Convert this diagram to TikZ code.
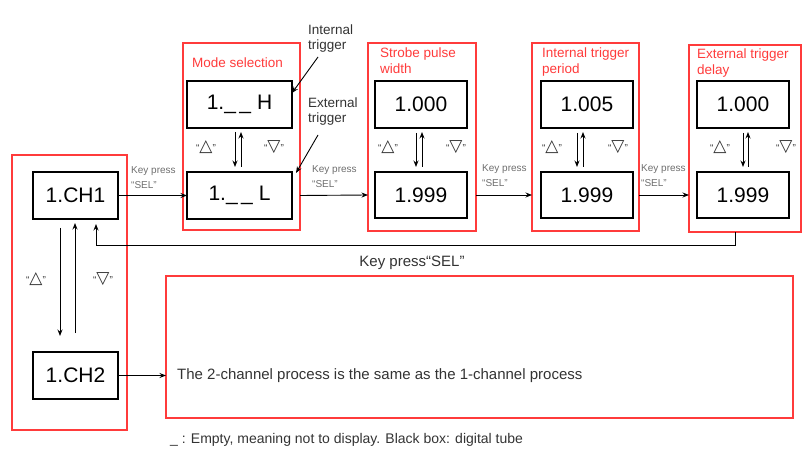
\documentclass[tikz,border=0pt]{standalone}
\usepackage{fontspec}
\setmainfont{Liberation Sans}
\newfontfamily\symfont{DejaVu Sans}
\usetikzlibrary{arrows.meta}
\definecolor{frred}{HTML}{FF3B3B}
\definecolor{txtgray}{HTML}{333333}
\definecolor{keygray}{HTML}{6E6E6E}
\newcommand\qup{{\fontsize{10}{10}\selectfont“}{\symfont\fontsize{17}{17}\selectfont △}{\fontsize{10}{10}\selectfont”}}
\newcommand\qdown{{\fontsize{10}{10}\selectfont“}{\symfont\fontsize{17}{17}\selectfont ▽}{\fontsize{10}{10}\selectfont”}}
\begin{document}
\begin{tikzpicture}[x=1pt,y=-1pt,
  redbox/.style={draw=frred,line width=1.3pt,anchor=north west,inner sep=0pt,outer sep=0pt},
  digit/.style={draw=black,line width=1.1pt,anchor=north west,inner sep=0pt,outer sep=0pt,
     font=\fontsize{21}{21}\selectfont},
  ttl/.style={text=frred,anchor=base west,inner sep=0pt,align=left,
     font=\fontsize{13.5}{16}\selectfont},
  ann/.style={text=txtgray,anchor=base west,inner sep=0pt,align=left,
     font=\fontsize{13.5}{15.5}\selectfont},
  keyl/.style={text=keygray,anchor=base west,inner sep=0pt,align=left,
     font=\fontsize{10}{15}\selectfont},
  sym/.style={inner sep=0pt,text=txtgray},
  arr/.style={line width=0.9pt,-{Stealth[length=6.5pt,width=5pt]}}
]
\useasboundingbox (0,0) rectangle (811,457);

% red frames
\node[redbox,minimum width=115pt,minimum height=275pt] (lf) at (12,155) {};
\node[redbox,minimum width=117pt,minimum height=187pt] (mf) at (183,43) {};
\node[redbox,minimum width=108pt,minimum height=188pt] (sf) at (368,43) {};
\node[redbox,minimum width=107pt,minimum height=188pt] (inf) at (532,43) {};
\node[redbox,minimum width=112pt,minimum height=187pt] (exf) at (689,45) {};
\node[redbox,minimum width=627pt,minimum height=142pt] (bigf) at (166,276) {};

% titles
\node[ttl] (t1) at (192,68) {Mode selection};
\node[ttl] (t2) at (380,74) {Strobe pulse\\width};
\node[ttl] (t3) at (542,74) {Internal trigger\\period};
\node[ttl] (t4) at (697,75) {External trigger\\delay};

% digit boxes
\node[digit,minimum width=85pt,minimum height=47pt] (ch1) at (33,172) {1.CH1};
\node[digit,minimum width=85pt,minimum height=47pt] (ch2) at (33,352) {1.CH2};
\node[digit,minimum width=105pt,minimum height=47pt] (mh) at (187,81) {1.\_\,\_ H};
\node[digit,minimum width=105pt,minimum height=47pt] (ml) at (187,172) {1.\_\,\_ L};
\node[digit,minimum width=92pt,minimum height=47pt] (s1) at (375,81) {1.000\hspace{17pt}};
\node[digit,minimum width=92pt,minimum height=46pt] (s2) at (375,172) {1.999\hspace{17pt}};
\node[digit,minimum width=92pt,minimum height=47pt] (i1) at (541,81) {1.005\hspace{19pt}};
\node[digit,minimum width=92pt,minimum height=46pt] (i2) at (541,172) {1.999\hspace{19pt}};
\node[digit,minimum width=92pt,minimum height=47pt] (e1) at (697,81) {1.000\hspace{7pt}};
\node[digit,minimum width=92pt,minimum height=46pt] (e2) at (697,172) {1.999\hspace{7pt}};

% up/down arrows inside frames
\draw[arr] ([xshift=-4.5pt,yshift=-4pt]mh.south) -- ([xshift=-4.5pt,yshift=5pt]ml.north);
\draw[arr] ([xshift=1.5pt,yshift=5pt]ml.north) -- ([xshift=1.5pt,yshift=-4pt]mh.south);
\draw[arr] ([xshift=-5pt,yshift=-5pt]s1.south) -- ([xshift=-5pt,yshift=5pt]s2.north);
\draw[arr] ([xshift=1pt,yshift=5pt]s2.north) -- ([xshift=1pt,yshift=-4pt]s1.south);
\draw[arr] ([xshift=-10pt,yshift=-5pt]i1.south) -- ([xshift=-10pt,yshift=5pt]i2.north);
\draw[arr] ([xshift=-4pt,yshift=5pt]i2.north) -- ([xshift=-4pt,yshift=-4pt]i1.south);
\draw[arr] ([xshift=0pt,yshift=-5pt]e1.south) -- ([xshift=0pt,yshift=5pt]e2.north);
\draw[arr] ([xshift=5pt,yshift=5pt]e2.north) -- ([xshift=5pt,yshift=-4pt]e1.south);

% triangle labels
\node[sym] (mu) at (206,147) {\qup};
\node[sym] (md) at (274,147) {\qdown};
\node[sym] (su) at (388,147) {\qup};
\node[sym] (sd) at (456,147) {\qdown};
\node[sym] (iu) at (552,147) {\qup};
\node[sym] (id) at (618,147) {\qdown};
\node[sym] (eu) at (720,147) {\qup};
\node[sym] (ed) at (786,147) {\qdown};
\node[sym] (lu) at (36,279) {\qup};
\node[sym] (ld) at (103,279) {\qdown};

% left column arrows
\draw[arr] ([xshift=-15.5pt,yshift=-9pt]ch1.south) -- ([xshift=-15.5pt,yshift=16pt]ch2.north);
\draw[arr] ([xshift=-0.5pt,yshift=19pt]ch2.north) -- ([xshift=-0.5pt,yshift=-4pt]ch1.south);

% horizontal key press arrows
\draw[arr] (ch1.east) -- (ml.west);
\draw[arr] (mf.east |- ml.west) -- (sf.west |- s2.west);
\draw[arr] (sf.east |- s2.west) -- (inf.west |- i2.west);
\draw[arr] (inf.east |- i2.west) -- (exf.west |- e2.west);
\draw[arr] (ch2.east) -- (bigf.west |- ch2.east);

\node[keyl] (k1) at (131,189) {Key press\\“SEL”};
\node[keyl] (k2) at (312,188) {Key press\\“SEL”};
\node[keyl] (k3) at (482,187) {Key press\\“SEL”};
\node[keyl] (k4) at (641,187) {Key press\\“SEL”};

% return path
\draw[arr] ([xshift=-10pt]exf.south) |- ([xshift=20.5pt,yshift=-26pt]ch1.south) -- ([xshift=20.5pt,yshift=-5pt]ch1.south);
\node[text=txtgray,anchor=base,inner sep=0pt,font=\fontsize{15}{15}\selectfont] (kb) at (412,266) {Key press“SEL”};

% annotations
\node[ann] (ai) at (308,50) {Internal\\trigger};
\node[ann] (ae) at (308,123) {External\\trigger};
\coordinate (aia) at (318,57);
\coordinate (aea) at (318,135);
\draw[arr] (aia) -- ([yshift=-12pt]mh.north east);
\draw[arr] (aea) -- ([xshift=4pt,yshift=-1pt]ml.north east);

% big box text and footer
\node[text=txtgray,anchor=base west,inner sep=0pt,font=\fontsize{15}{15}\selectfont] (bt) at (177,379)
  {The 2-channel process is the same as the 1-channel process};
\node[text=txtgray,anchor=base west,inner sep=0pt,font=\fontsize{14}{14}\selectfont] (ft) at (170,443)
  {\_ : Empty, meaning not to display. Black box: digital tube};
\end{tikzpicture}
\end{document}
